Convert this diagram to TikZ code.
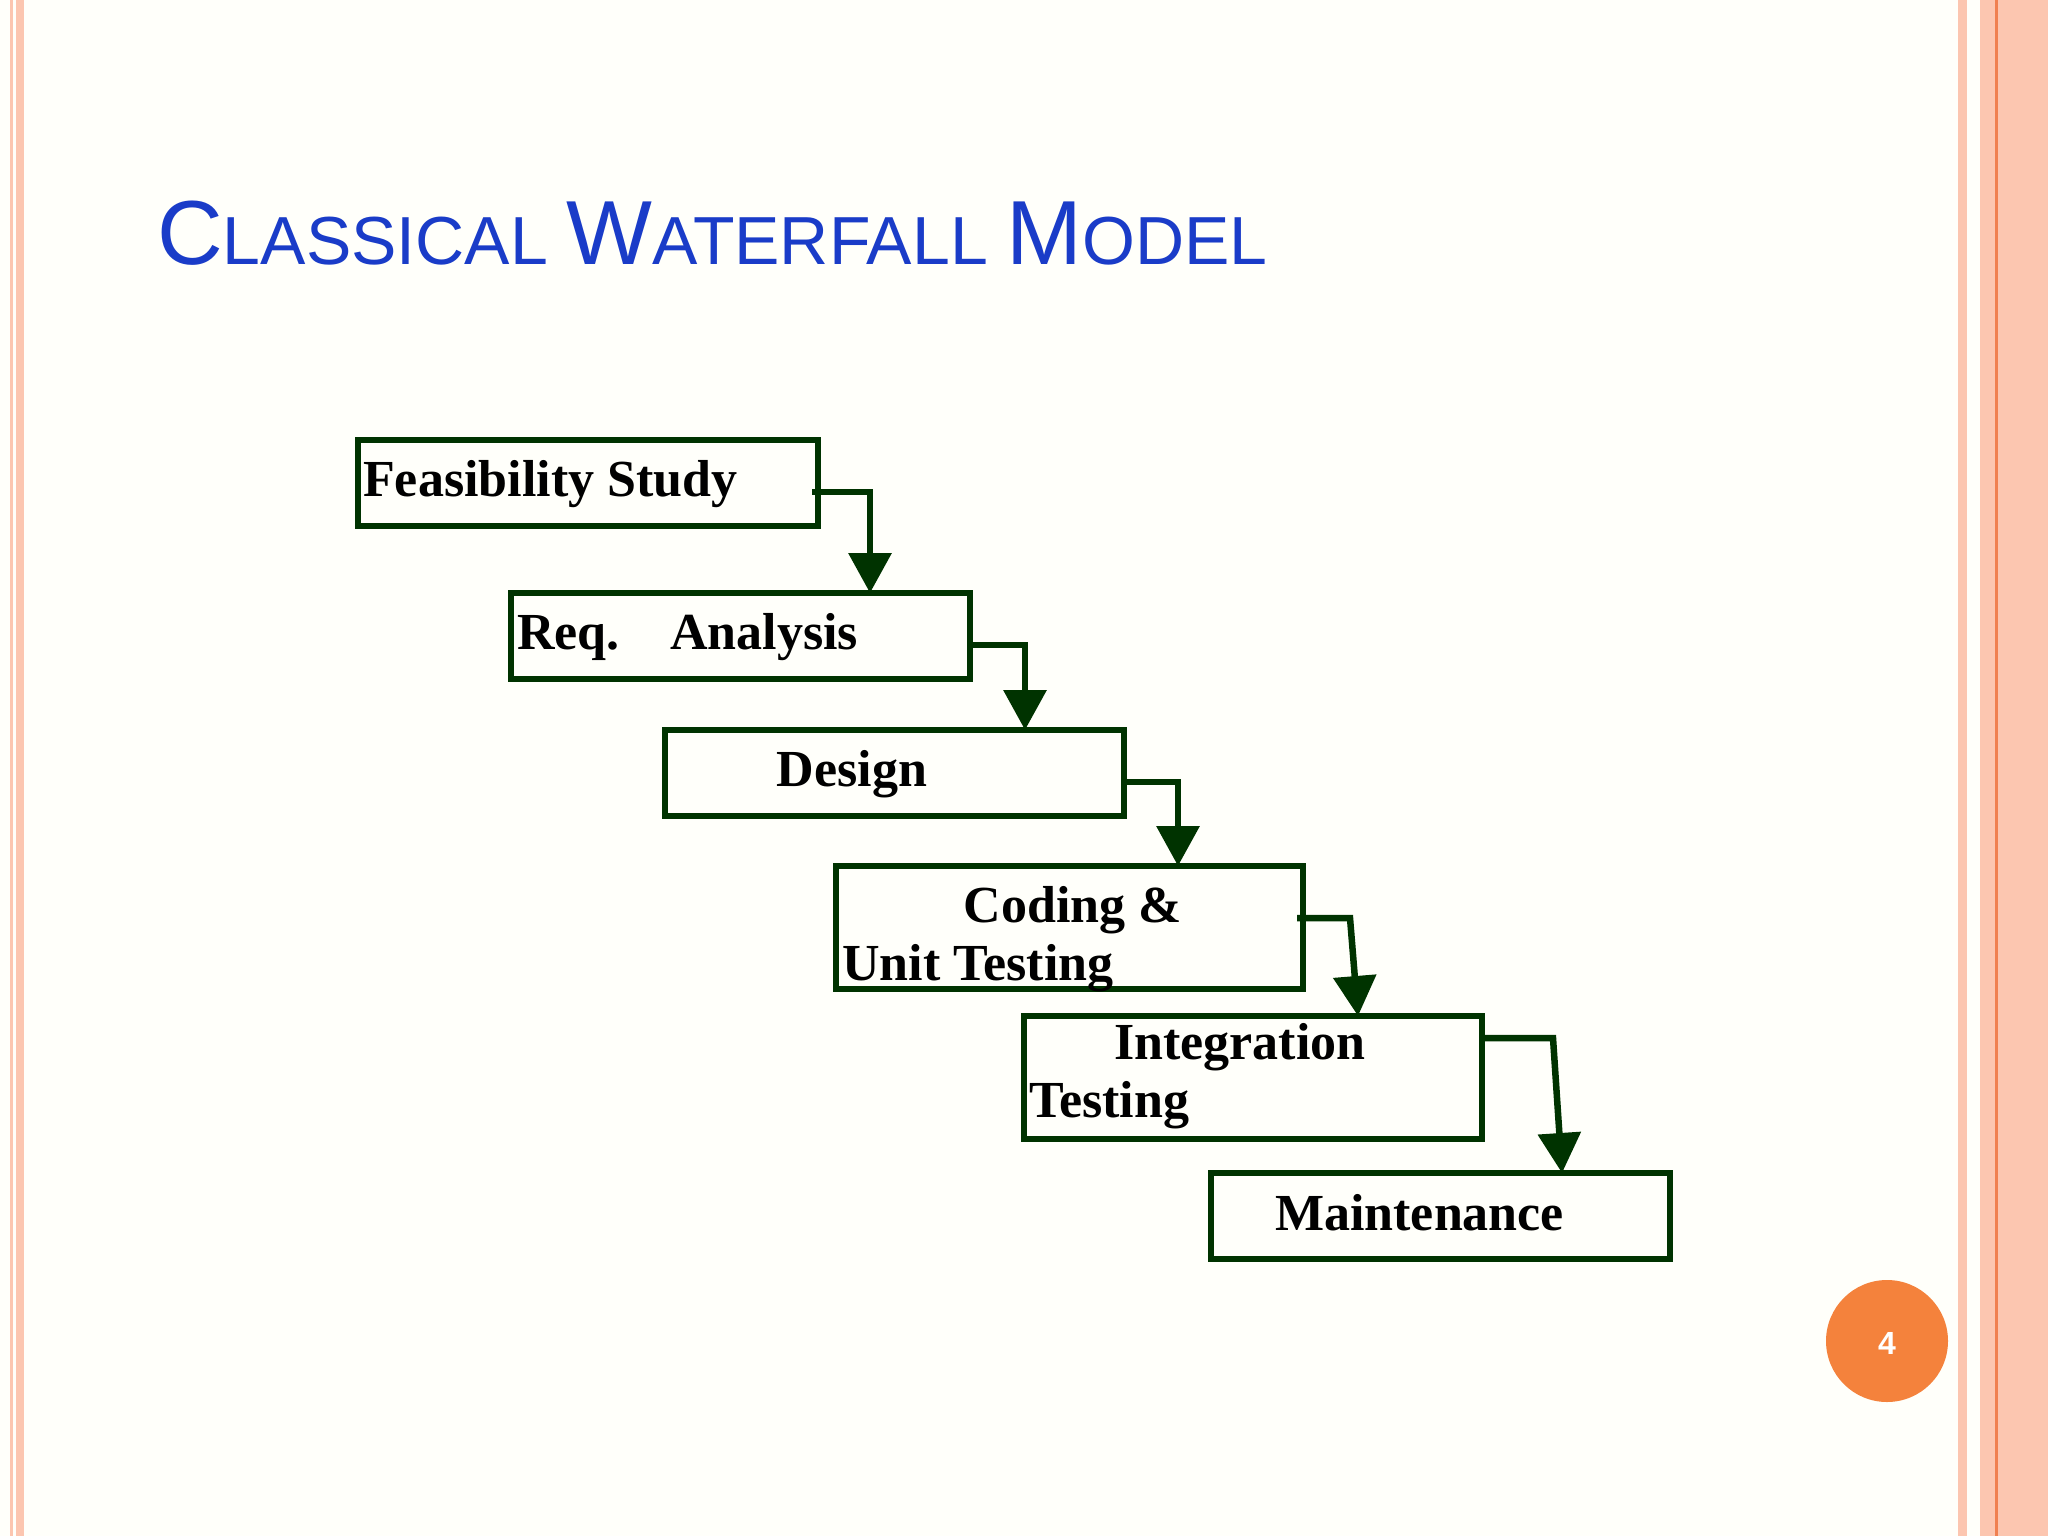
\documentclass[tikz,border=0pt]{standalone}
\usepackage{fontspec}
\setmainfont{Liberation Serif}
\newfontfamily\titlefont{Liberation Sans}
\usetikzlibrary{arrows.meta}
\definecolor{dg}{HTML}{003300}
\definecolor{tb}{HTML}{1A3CC8}
\definecolor{pk}{HTML}{FCC6B0}
\definecolor{pkd}{HTML}{F08050}
\definecolor{orc}{HTML}{F4823C}
\tikzset{
  stage/.style={draw=dg,line width=6.5pt,rectangle},
  lbl/.style={anchor=base west,inner sep=0pt,font=\fontsize{52}{56}\selectfont\bfseries},
  flow/.style={draw=dg,line width=6.5pt,-{Triangle[length=40pt,width=42pt]}},
}
\begin{document}
\begin{tikzpicture}[x=1pt,y=-1pt]
\fill[white!98!yellow] (0,0) rectangle (2048,1536);
\useasboundingbox (0,0) rectangle (2048,1536);
% borders
\fill[pk] (10,0) rectangle (13,1536);
\fill[pk] (16,0) rectangle (24,1536);
\fill[pk] (1958,0) rectangle (1967,1536);
\fill[pk] (1980,0) rectangle (2048,1536);
\fill[pkd] (1995,0) rectangle (1998,1536);
% title
\node[anchor=base west,inner sep=0pt,text=tb,font=\titlefont] (title) at (157,264)
 {\fontsize{91}{95}\selectfont C\fontsize{68}{72}\selectfont LASSICAL \fontsize{91}{95}\selectfont W\fontsize{68}{72}\selectfont ATERFALL \fontsize{91}{95}\selectfont M\fontsize{68}{72}\selectfont ODEL};
% boxes
\path[stage] (358,440) rectangle (818,526);
\path[stage] (511,593) rectangle (970,679);
\path[stage] (665,730) rectangle (1124,816);
\path[stage] (836,866) rectangle (1303,989);
\path[stage] (1024,1016) rectangle (1482,1139);
\path[stage] (1211,1173) rectangle (1670,1259);
\coordinate (f1) at (812,492); \coordinate (f1c) at (870,492); \coordinate (f1e) at (870,593);
\coordinate (f2) at (970,645); \coordinate (f2c) at (1025,645); \coordinate (f2e) at (1025,730);
\coordinate (f3) at (1124,782); \coordinate (f3c) at (1178,782); \coordinate (f3e) at (1178,866);
\coordinate (f4) at (1297,918); \coordinate (f4c) at (1350,918); \coordinate (f4e) at (1358,1016);
\coordinate (f5) at (1482,1038); \coordinate (f5c) at (1553,1038); \coordinate (f5e) at (1562,1173);
\draw[flow] (f1) -- (f1c) -- (f1e);
\draw[flow] (f2) -- (f2c) -- (f2e);
\draw[flow] (f3) -- (f3c) -- (f3e);
\draw[flow] (f4) -- (f4c) -- (f4e);
\draw[flow] (f5) -- (f5c) -- (f5e);
% labels
\node[lbl] (t1) at (363,496) {Feasibility Study};
\node[lbl] (t2a) at (517,649) {Req.};
\node[lbl] (t2b) at (670,649) {Analysis};
\node[lbl,anchor=base] (t3) at (852,786) {Design};
\node[lbl,anchor=base] (t4a) at (1073,922) {Coding \&};
\node[lbl] (t4b) at (842,980) {Unit Testing};
\node[lbl] (t5a) at (1114,1059) {Integration};
\node[lbl] (t5b) at (1029,1117) {Testing};
\node[lbl] (t6) at (1275,1230) {Maintenance};
% page number
\fill[orc] (1887,1341) circle (61);
\node[text=white,font=\titlefont\fontsize{32}{34}\selectfont\bfseries] (pn) at (1887,1343) {4};
\end{tikzpicture}
\end{document}
